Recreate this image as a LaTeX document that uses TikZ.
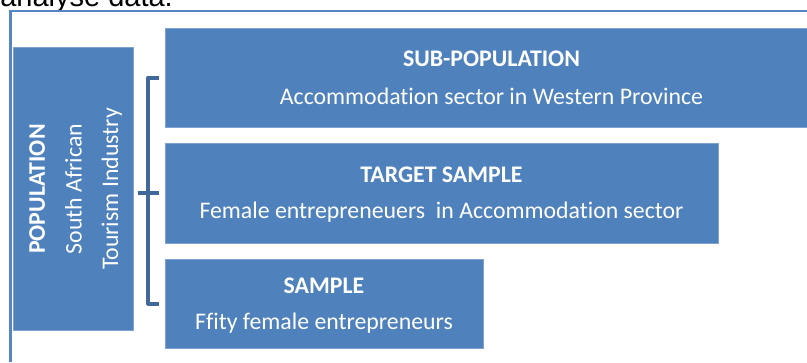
\documentclass[tikz,border=0pt]{standalone}
\usepackage{fontspec}
\setmainfont{Carlito}[Ligatures=NoCommon]
\newfontfamily\captionfont{Liberation Sans}
\definecolor{boxblue}{HTML}{4F81BD}
\definecolor{boxedge}{HTML}{7FA3D1}
\definecolor{bracketblue}{HTML}{41689B}
\definecolor{frameblue}{HTML}{5585C2}
\tikzset{
  box/.style={rectangle, fill=boxblue, draw=boxedge, line width=0.6pt, inner sep=0pt},
  boxtitle/.style={anchor=base, inner sep=0pt, text=white, font=\fontsize{23.8}{28}\selectfont\bfseries},
  boxtext/.style={anchor=base, inner sep=0pt, text=white, font=\fontsize{23.8}{28}\selectfont},
  bracket/.style={draw=bracketblue, line width=4pt, line join=round},
  frame/.style={draw=frameblue, line width=2.2pt}
}
\begin{document}
\begin{tikzpicture}[x=1pt,y=-1pt]
  \clip (0,0) rectangle (807,362);
  % running text above the frame
  \node[anchor=base east, inner sep=0pt, font=\captionfont\fontsize{29}{32}\selectfont] (caption) at (173,6) {analyse data.};
  % frame
  \draw[frame] (10.5,362) -- (10.5,10.8) -- (807,10.8);
  % population column
  \node[box, minimum width=120pt, minimum height=283pt] (pop) at (73,188.5) {};
  \node[boxtitle, rotate=90] (popT) at (45,189) {POPULATION};
  \node[boxtext, rotate=90] (popA) at (81.5,189) {South African};
  \node[boxtext, rotate=90] (popB) at (118,189) {Tourism Industry};
  % nested groups
  \node[box, minimum width=653pt, minimum height=99pt] (sub) at (491.5,77.5) {};
  \node[boxtitle] (subT) at (491.5,66) {SUB-POPULATION};
  \node[boxtext] (subA) at (491.5,104) {Accommodation sector in Western Province};
  \node[box, minimum width=553pt, minimum height=100pt] (tgt) at (441.5,193) {};
  \node[boxtitle] (tgtT) at (441.5,182) {TARGET SAMPLE};
  \node[boxtext] (tgtA) at (441.5,218.5) {Female entrepreneuers\ \ in Accommodation sector};
  \node[box, minimum width=318pt, minimum height=89pt] (smp) at (324,303.5) {};
  \node[boxtitle] (smpT) at (324,293) {SAMPLE};
  \node[boxtext] (smpA) at (324,329) {Ffity female entrepreneurs};
  % bracket joining the population to its groups
  \draw[bracket] ([xshift=-6pt]sub.west) -- ([xshift=-16.3pt]sub.west)
                 -- ([xshift=-16.3pt]smp.west) -- ([xshift=-6pt]smp.west);
  \draw[bracket] ([xshift=-27pt]tgt.west) -- ([xshift=-6pt]tgt.west);
\end{tikzpicture}
\end{document}
